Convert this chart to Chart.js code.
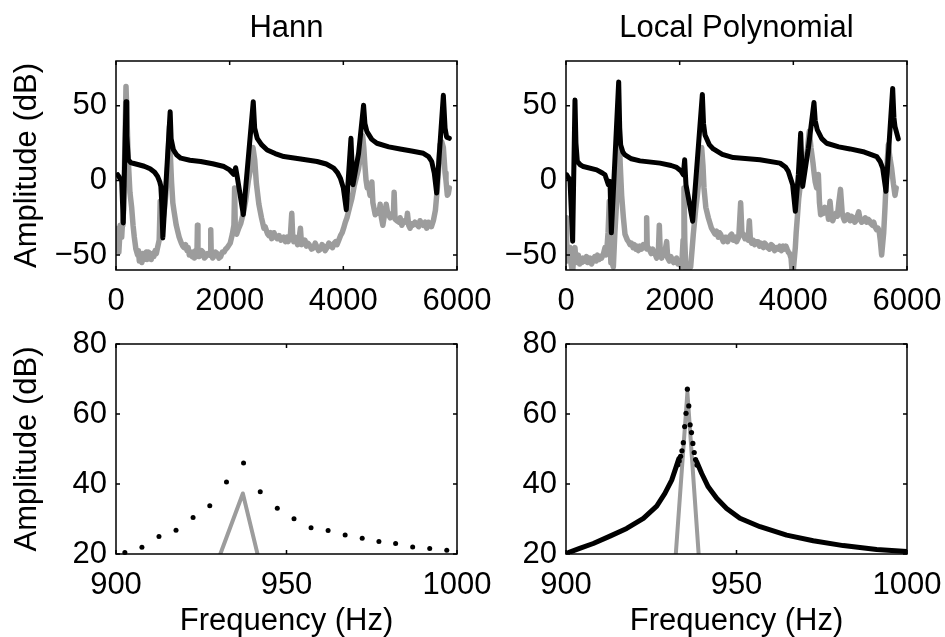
<!DOCTYPE html>
<html>
<head>
<meta charset="utf-8">
<title>Hann vs Local Polynomial</title>
<script src="https://cdn.jsdelivr.net/npm/chart.js@4.4.0/dist/chart.umd.min.js"></script>
<style>
    html, body { margin: 0; padding: 0; background: #fff; }
    body { width: 945px; height: 637px; position: relative; overflow: hidden; }
    canvas { position: absolute; }
</style>
</head>
<body>
<canvas id="hann-top" width="500" height="320" style="left:0;top:0"></canvas>
<canvas id="lpm-top" width="475" height="320" style="left:470px;top:0"></canvas>
<canvas id="hann-zoom" width="500" height="340" style="left:0;top:300px"></canvas>
<canvas id="lpm-zoom" width="475" height="340" style="left:470px;top:300px"></canvas>
<script>
// tick labels
const topFreqTicks = [0, 2000, 4000, 6000];
const topDbTicks = [-50, 0, 50];
const zoomFreqTicks = [900, 950, 1000];
const zoomDbTicks = [20, 40, 60, 80];

// Hann, full band
const hannTopBlackFreq = [30, 60, 100, 128, 176, 190, 217, 260, 300, 400, 497, 600, 680, 731, 770, 789, 805, 824, 953, 970, 1011, 1070, 1140, 1300, 1491, 1700, 1900, 2000, 2070, 2105, 2135, 2240, 2415, 2440, 2485, 2560, 2660, 2800, 2953, 3250, 3538, 3700, 3830, 3900, 3947, 4000, 4052, 4134, 4169, 4268, 4356, 4380, 4415, 4500, 4590, 4800, 4999, 5200, 5408, 5500, 5555, 5600, 5642, 5760, 5790, 5818, 5865];
const hannTopBlackDb = [3.8, 2, 0, -28.5, 52.7, 30, 13.8, 12, 11.5, 10.5, 9.5, 7.8, 5.5, 2.7, -1, -4, -15, -38.5, 46, 28, 20.4, 17, 14.9, 13.5, 12.7, 11.2, 9.3, 7, 4, 8.5, 2, -22.9, 52.7, 35, 28.2, 24, 20.4, 18, 16, 14.3, 12.7, 11, 8.2, 5, 1.6, -5, -19.6, 28.2, -2.9, 18, 50.4, 38, 32.7, 27.5, 24.9, 22.5, 21.1, 19.7, 18.2, 16, 12.7, 5, -8.4, 57, 35, 29, 28.2];

const hannTopGrayFreq = [5, 18, 30, 40, 50, 62, 75, 88, 100, 112, 120, 135, 176, 217, 245, 275, 300, 322, 350, 380, 395, 410, 425, 439, 455, 470, 485, 497, 515, 530, 545, 556, 575, 600, 620, 643, 665, 690, 710, 731, 760, 778, 795, 815, 850, 877, 910, 940, 960, 977, 1000, 1023, 1060, 1085, 1111, 1130, 1150, 1175, 1199, 1225, 1250, 1270, 1290, 1316, 1340, 1360, 1380, 1403, 1425, 1433, 1442, 1460, 1480, 1505, 1530, 1555, 1580, 1608, 1640, 1660, 1667, 1676, 1700, 1720, 1750, 1780, 1810, 1842, 1870, 1900, 1930, 1959, 2010, 2047, 2075, 2087, 2100, 2123, 2160, 2193, 2240, 2280, 2330, 2368, 2410, 2440, 2470, 2514, 2560, 2602, 2625, 2650, 2670, 2690, 2719, 2740, 2760, 2780, 2800, 2836, 2870, 2900, 2925, 2950, 2982, 3010, 3030, 3050, 3070, 3093, 3110, 3128, 3150, 3170, 3195, 3216, 3245, 3265, 3300, 3325, 3350, 3375, 3400, 3440, 3479, 3505, 3530, 3565, 3600, 3625, 3650, 3680, 3713, 3745, 3780, 3810, 3840, 3865, 3888, 3920, 3950, 3980, 4005, 4035, 4064, 4110, 4151, 4190, 4230, 4268, 4300, 4340, 4360, 4380, 4400, 4420, 4440, 4470, 4502, 4520, 4561, 4600, 4630, 4648, 4670, 4695, 4720, 4754, 4780, 4824, 4860, 4880, 4894, 4910, 4941, 4980, 5000, 5029, 5055, 5080, 5110, 5128, 5150, 5175, 5200, 5220, 5260, 5300, 5325, 5350, 5375, 5400, 5440, 5467, 5495, 5520, 5550, 5584, 5620, 5654, 5680, 5701, 5730, 5760, 5790, 5806, 5830, 5847, 5865];
const hannTopGrayDb = [-45, -36, -32, -44, -48, -40, -30, -35, -38, -30, -27, -20, 63, 12.6, -8, -18, -30, -38, -46, -50, -47, -54, -50, -52, -55, -49, -52, -53, -49, -48, -53, -52, -48, -50, -53, -49, -51, -47, -49, -45, -40, -14, -35, -30, -20, -9.6, 10, 36, 14, -1, -15, -21, -30, -34, -38, -40, -42, -44, -45, -43, -47, -45, -50, -48, -51, -48, -52, -47, -48, -30, -48, -51, -50, -47, -48, -52, -51, -49, -50, -48, -33, -49, -52, -51, -48, -49, -52, -51, -48, -48, -46, -45, -42, -36, -30, -5, -34, -36, -32, -29, -22, -14, 0, 8, 22, 14, -2, -16, -25, -32, -31, -34, -36, -37, -35, -39, -38, -35, -37, -39, -37, -40, -39, -38, -41, -38, -41, -38, -36, -22, -38, -41, -38, -40, -43, -41, -32, -43, -42, -40, -44, -42, -43, -46, -45, -42, -44, -47, -46, -43, -44, -47, -45, -42, -44, -45, -42, -41, -43, -40, -37, -35, -32, -28, -25, -18, -12, -4, 2, 8, 16, 30, 22, 10, 0, -5, -3, -10, -1, -15, -23, -20, -22, -16, -25, -30, -24, -16, -22, -25, -22, -24, -8, -26, -27, -28, -25, -30, -28, -27, -28, -22, -30, -32, -29, -30, -28, -30, -31, -27, -29, -30, -28, -32, -28, -29, -31, -27, -20, -5, 10, 24, 26, 22, 5, 0, -10, -9, -5];

// Local polynomial, full band
const lpmTopBlackFreq = [12, 40, 70, 117, 158, 175, 199, 250, 305, 540, 640, 686, 745, 774, 798, 927, 945, 962, 1000, 1038, 1150, 1302, 1654, 1850, 1947, 2020, 2064, 2088, 2111, 2229, 2399, 2420, 2446, 2520, 2592, 2750, 2944, 3413, 3765, 3860, 3912, 3988, 4035, 4088, 4129, 4164, 4264, 4363, 4385, 4422, 4500, 4586, 4800, 4997, 5250, 5466, 5530, 5572, 5630, 5748, 5770, 5789, 5847];
const lpmTopBlackDb = [3.8, 2, 0.4, -40.7, 53.8, 25, 12.7, 10.5, 9.3, 7.1, 5, 3.8, -2.9, -0.7, -35.1, 66, 35, 23.8, 19, 17.1, 14.5, 13.1, 11.6, 10, 8.7, 6.5, 3.8, 13.8, -2.9, -27.3, 57.6, 38, 30.4, 24, 21.1, 17.5, 15.3, 13.8, 11.6, 9, 6, -2.9, -20.7, 3.8, 31.6, -4, 21.5, 52.2, 40, 33.8, 28, 24.9, 22.5, 21.1, 19, 16, 12.5, 8.2, -7.3, 61.6, 42, 36, 27.8];

const lpmTopGrayFreq = [0, 12, 23, 40, 55, 70, 90, 117, 135, 158, 175, 190, 217, 240, 260, 280, 300, 334, 360, 380, 420, 450, 481, 505, 530, 555, 580, 605, 627, 660, 686, 700, 715, 740, 762, 775, 790, 803, 833, 860, 891, 915, 938, 955, 979, 1010, 1038, 1080, 1100, 1126, 1150, 1180, 1205, 1230, 1250, 1273, 1300, 1330, 1360, 1390, 1410, 1419, 1430, 1449, 1475, 1500, 1525, 1550, 1575, 1595, 1625, 1642, 1660, 1683, 1710, 1730, 1771, 1790, 1818, 1845, 1870, 1895, 1918, 1945, 1970, 2000, 2035, 2060, 2076, 2090, 2111, 2150, 2193, 2215, 2240, 2280, 2311, 2350, 2387, 2410, 2428, 2460, 2504, 2560, 2622, 2650, 2680, 2700, 2720, 2745, 2768, 2795, 2820, 2845, 2870, 2890, 2915, 2940, 2960, 2980, 3003, 3040, 3073, 3095, 3120, 3150, 3180, 3205, 3226, 3245, 3267, 3295, 3320, 3350, 3380, 3405, 3430, 3450, 3472, 3495, 3520, 3550, 3580, 3610, 3640, 3670, 3707, 3735, 3760, 3790, 3820, 3845, 3870, 3890, 3912, 3935, 3960, 3980, 4000, 4035, 4050, 4070, 4095, 4117, 4160, 4205, 4245, 4281, 4310, 4345, 4365, 4385, 4410, 4440, 4460, 4481, 4500, 4528, 4555, 4580, 4600, 4620, 4645, 4670, 4692, 4720, 4751, 4775, 4800, 4830, 4860, 4880, 4900, 4927, 4955, 4980, 5000, 5020, 5055, 5080, 5100, 5125, 5150, 5175, 5202, 5240, 5265, 5290, 5315, 5340, 5365, 5390, 5415, 5437, 5465, 5490, 5510, 5530, 5554, 5590, 5613, 5640, 5671, 5700, 5730, 5760, 5789, 5810, 5830, 5865];
const lpmTopGrayDb = [-25, -40, -54, -48, -45, -50, -56, -62, -50, -45, -55, -52, -50, -56, -53, -55, -52, -54, -51, -55, -52, -56, -53, -51, -54, -50, -53, -51, -52, -49, -45, -50, -48, -35, -14, -40, -55, -54, -58, -35, -14, 5, 26, 10, -10, -25, -36, -40, -41, -43, -42, -45, -43, -46, -44, -47, -44, -46, -43, -45, -44, -25, -46, -45, -47, -49, -46, -48, -50, -52, -48, -30, -50, -52, -49, -50, -41, -52, -54, -51, -53, -55, -54, -52, -56, -55, -58, -40, -5, -40, -62, -60, -58, -48, -36, -20, -10, 5, 22, 10, -5, -18, -25, -32, -36, -34, -38, -35, -36, -39, -41, -38, -38, -41, -39, -37, -36, -40, -40, -38, -41, -38, -15, -35, -36, -39, -38, -40, -27, -40, -42, -40, -43, -41, -41, -44, -42, -44, -45, -42, -43, -45, -46, -43, -44, -47, -45, -46, -44, -47, -44, -46, -44, -46, -48, -49, -52, -62, -60, -45, -35, -25, -12, -5, 5, 12, 20, 33, 22, 12, 5, -1, -5, 4, -15, -23, -21, -22, -18, -19, -21, -26, -14, -24, -27, -24, -22, -24, -15, -6, -22, -25, -27, -26, -23, -24, -27, -24, -25, -28, -27, -24, -21, -26, -28, -27, -25, -28, -26, -27, -29, -30, -28, -31, -33, -32, -34, -40, -50, -35, -18, 5, 24, 15, 8, -2, -10, -5];

// Hann, zoom on the 935 Hz mode
const hannZoomDotFreq = [902.6, 907.6, 912.6, 917.6, 922.6, 927.5, 932.4, 937.4, 942.3, 947.3, 952.2, 957.2, 962.2, 967.2, 972.2, 977.1, 982.0, 987.0, 992.0, 997.0];
const hannZoomDotDb = [20.4, 21.9, 25.0, 26.8, 30.4, 33.8, 40.6, 46.0, 37.8, 33.1, 30.1, 27.5, 26.7, 25.4, 24.5, 23.6, 23.0, 22.0, 21.6, 21.1];
const hannZoomGrayFreq = [930.6, 937.2, 941.5];
const hannZoomGrayDb = [20, 37.3, 20];

// Local polynomial, zoom on the 935 Hz mode
const lpmZoomTailLeftFreq = [900, 900.7, 904, 908.0, 912.9, 917.8, 922.7, 926.6, 929.0, 931.0, 932.3, 933.1];
const lpmZoomTailLeftDb = [20.3, 20.4, 21.6, 23.0, 25.1, 27.3, 30.2, 33.7, 37.3, 41.1, 44.9, 47.3];
const lpmZoomTailRightFreq = [938.3, 939.8, 941.7, 944.2, 947.1, 951.0, 956.9, 964.7, 972.5, 981.3, 991.1, 1000];
const lpmZoomTailRightDb = [46.4, 43.0, 39.2, 35.9, 33.0, 30.2, 27.8, 25.4, 23.8, 22.4, 21.3, 20.7];
const lpmZoomDotFreq = [932.8, 933.2, 933.6, 934.0, 934.4, 934.8, 935.2, 935.6, 936.0, 936.4, 936.8, 937.2, 937.6, 938.0, 938.4];
const lpmZoomDotDb = [45.5, 46.6, 47.9, 49.5, 51.8, 56.4, 60.2, 67.1, 62.3, 56.9, 54.7, 51.6, 49.0, 47.0, 45.4];
const lpmZoomGrayFreq = [932.2, 935.6, 938.9];
const lpmZoomGrayDb = [20, 66.2, 20];

const GRAY = '#9c9c9c';
const FONT = '"Liberation Sans", Arial, Helvetica, sans-serif';

Chart.defaults.font.family = FONT;
Chart.defaults.font.size = 31;
Chart.defaults.color = '#000';

function pts(xs, ys) {
    return xs.map((x, i) => ({ x: x, y: ys[i] }));
}

function lineSet(xs, ys, color, width) {
    return {
        data: pts(xs, ys),
        showLine: true,
        borderColor: color,
        borderWidth: width,
        pointRadius: 0,
        borderJoinStyle: 'round',
        borderCapStyle: 'round',
        clip: 0
    };
}

function dotSet(xs, ys, radius) {
    return {
        data: pts(xs, ys),
        showLine: false,
        pointRadius: radius,
        pointBorderWidth: 0,
        pointBackgroundColor: '#000',
        borderColor: '#000',
        clip: false
    };
}

// matlab style box with inward ticks on all four sides
const boxTicks = {
    id: 'boxTicks',
    afterDatasetsDraw(chart) {
        const { ctx, chartArea: a, scales: { x, y } } = chart;
        ctx.save();
        ctx.strokeStyle = '#000';
        ctx.lineWidth = 1.5;
        ctx.strokeRect(a.left, a.top, a.right - a.left, a.bottom - a.top);
        ctx.beginPath();
        x.ticks.forEach(t => {
            const px = x.getPixelForValue(t.value);
            ctx.moveTo(px, a.bottom); ctx.lineTo(px, a.bottom - 4);
            ctx.moveTo(px, a.top); ctx.lineTo(px, a.top + 4);
        });
        y.ticks.forEach(t => {
            const py = y.getPixelForValue(t.value);
            ctx.moveTo(a.left, py); ctx.lineTo(a.left + 4, py);
            ctx.moveTo(a.right, py); ctx.lineTo(a.right - 4, py);
        });
        ctx.stroke();
        ctx.restore();
    }
};

function createPanel(id, p) {
    const ctx = document.getElementById(id);
    if (!ctx) {
        console.error('Canvas ' + id + ' not found!');
        return null;
    }
    const label = v => String(v).replace('-', '\u2212');
    return new Chart(ctx, {
        type: 'scatter',
        data: { datasets: p.datasets },
        options: {
            responsive: false,
            animation: false,
            devicePixelRatio: 1,
            events: [],
            layout: { padding: { left: 0, top: p.padTop, right: p.padRight, bottom: 0 } },
            plugins: {
                legend: { display: false },
                tooltip: { enabled: false },
                title: {
                    display: !!p.title,
                    text: p.title || '',
                    fullSize: false,
                    font: { size: 31, weight: 'normal' },
                    padding: { top: 9.6, bottom: 14.2 }
                }
            },
            scales: {
                x: {
                    type: 'linear',
                    min: p.xMin,
                    max: p.xMax,
                    grid: { display: false, drawTicks: false },
                    border: { display: false },
                    afterBuildTicks: s => { s.ticks = p.xTicks.map(v => ({ value: v })); },
                    afterFit: s => { s.height = p.xHeight; s.paddingLeft = 0; s.paddingRight = 0; },
                    ticks: { autoSkip: false, maxRotation: 0, padding: 12.5, callback: label },
                    title: {
                        display: !!p.xTitle,
                        text: p.xTitle || '',
                        padding: { top: 0, bottom: 0 }
                    }
                },
                y: {
                    type: 'linear',
                    min: p.yMin,
                    max: p.yMax,
                    grid: { display: false, drawTicks: false },
                    border: { display: false },
                    afterBuildTicks: s => { s.ticks = p.yTicks.map(v => ({ value: v })); },
                    afterFit: s => { s.width = p.yWidth; s.paddingTop = 0; s.paddingBottom = 0; },
                    ticks: { autoSkip: false, padding: 9, callback: label },
                    title: {
                        display: !!p.yTitle,
                        text: p.yTitle || '',
                        padding: { top: 9, bottom: 0 }
                    }
                }
            }
        },
        plugins: [boxTicks]
    });
}

createPanel('hann-top', {
    title: 'Hann',
    yTitle: 'Amplitude (dB)',
    xMin: 0, xMax: 6000, xTicks: topFreqTicks,
    yMin: -60, yMax: 80, yTicks: topDbTicks,
    yWidth: 116, xHeight: 50, padTop: 0, padRight: 43,
    datasets: [
        lineSet(hannTopBlackFreq, hannTopBlackDb, '#000', 5),
        lineSet(hannTopGrayFreq, hannTopGrayDb, GRAY, 5.5)
    ]
});

createPanel('lpm-top', {
    title: 'Local Polynomial',
    xMin: 0, xMax: 6000, xTicks: topFreqTicks,
    yMin: -60, yMax: 80, yTicks: topDbTicks,
    yWidth: 96, xHeight: 50, padTop: 0, padRight: 38,
    datasets: [
        lineSet(lpmTopBlackFreq, lpmTopBlackDb, '#000', 5),
        lineSet(lpmTopGrayFreq, lpmTopGrayDb, GRAY, 5.5)
    ]
});

createPanel('hann-zoom', {
    yTitle: 'Amplitude (dB)',
    xTitle: 'Frequency (Hz)',
    xMin: 900, xMax: 1000, xTicks: zoomFreqTicks,
    yMin: 20, yMax: 80, yTicks: zoomDbTicks,
    yWidth: 116, xHeight: 86, padTop: 44, padRight: 43,
    datasets: [
        dotSet(hannZoomDotFreq, hannZoomDotDb, 2.5),
        lineSet(hannZoomGrayFreq, hannZoomGrayDb, GRAY, 4)
    ]
});

createPanel('lpm-zoom', {
    xTitle: 'Frequency (Hz)',
    xMin: 900, xMax: 1000, xTicks: zoomFreqTicks,
    yMin: 20, yMax: 80, yTicks: zoomDbTicks,
    yWidth: 96, xHeight: 86, padTop: 44, padRight: 38,
    datasets: [
        dotSet(lpmZoomDotFreq, lpmZoomDotDb, 2.6),
        lineSet(lpmZoomTailLeftFreq, lpmZoomTailLeftDb, '#000', 5),
        lineSet(lpmZoomTailRightFreq, lpmZoomTailRightDb, '#000', 5),
        lineSet(lpmZoomGrayFreq, lpmZoomGrayDb, GRAY, 4)
    ]
});
</script>
</body>
</html>
